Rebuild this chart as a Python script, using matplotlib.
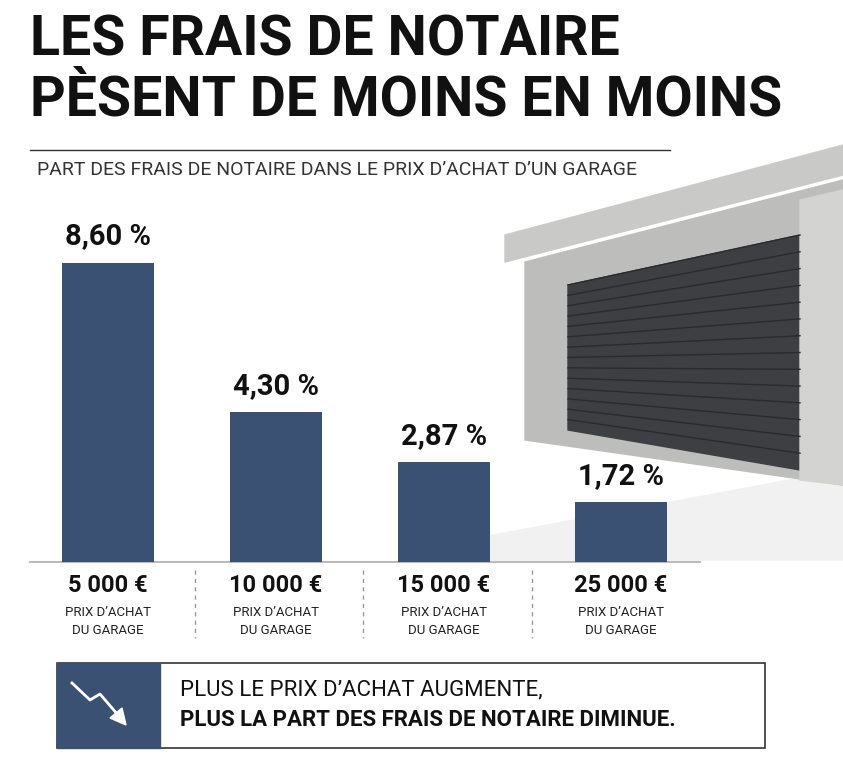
import matplotlib
matplotlib.use("Agg")
import matplotlib.pyplot as plt
from matplotlib.patches import Rectangle, Polygon, FancyArrowPatch

prices = ["5 000 €", "10 000 €", "15 000 €", "25 000 €"]
shares = [8.60, 4.30, 2.87, 1.72]
share_labels = ["8,60 %", "4,30 %", "2,87 %", "1,72 %"]

W, H = 843, 768
fig = plt.figure(figsize=(W/100, H/100), dpi=100)
fig.patch.set_facecolor("white")
FONT = "Roboto"
BAR = "#3b5173"

def px(x, y):
    return x / W, 1 - y / H

# decorative garage (drawn in figure pixel space)
deco = fig.add_axes([0, 0, 1, 1], zorder=0)
deco.set_xlim(0, W); deco.set_ylim(H, 0); deco.axis("off")
deco.add_patch(Polygon([[440, 545], [843, 470], [843, 560], [440, 560]], color="#f1f1f1"))
deco.add_patch(Polygon([[505, 235], [843, 145], [843, 175], [505, 262]], color="#c9c9c7"))
deco.add_patch(Polygon([[525, 262], [843, 180], [843, 485], [525, 440]], color="#bdbdbb"))
deco.add_patch(Polygon([[568, 285], [800, 235], [800, 470], [568, 430]], color="#3d3f43"))
for i in range(14):
    t = i / 14
    y1 = 285 + (430 - 285) * t
    y2 = 235 + (470 - 235) * t
    deco.plot([568, 800], [y1, y2], color="#2a2b2e", lw=1)
deco.add_patch(Polygon([[800, 200], [843, 190], [843, 485], [800, 480]], color="#d3d3d1"))

# title
fig.text(*px(30, 40), "LES FRAIS DE NOTAIRE", fontsize=40, fontweight="bold",
         family=FONT, va="center", ha="left", color="#111111")
fig.text(*px(30, 100), "PÈSENT DE MOINS EN MOINS", fontsize=40, fontweight="bold",
         family=FONT, va="center", ha="left", color="#111111")
fig.add_artist(plt.Line2D([30/W, 670/W], [1-150/H]*2, color="#333333", lw=1))
fig.text(*px(37, 170), "PART DES FRAIS DE NOTAIRE DANS LE PRIX D’ACHAT D’UN GARAGE",
         fontsize=14, family=FONT, va="center", ha="left", color="#333333")

# bars
ax = fig.add_axes([30/W, (H-562)/H, 670/W, 348/H], zorder=2)
ax.patch.set_alpha(0)
centers = [78, 246, 414, 591]
ax.bar(centers, shares, width=92, color=BAR)
for c, v, lab in zip(centers, shares, share_labels):
    ax.text(c, v + 0.35, lab, ha="center", va="bottom", fontsize=21,
            fontweight="bold", family=FONT, color="#111111")
ax.set_xlim(0, 670); ax.set_ylim(0, 10)
ax.axis("off")
fig.add_artist(plt.Line2D([30/W, 700/W], [1-562/H]*2, color="#bbbbbb", lw=1.5))

for c, p in zip(centers, prices):
    x = c + 30
    fig.text(*px(x, 585), p, ha="center", va="center", fontsize=17,
             fontweight="bold", family=FONT, color="#111111")
    fig.text(*px(x, 612), "PRIX D’ACHAT", ha="center", va="center",
             fontsize=9.5, family=FONT, color="#222222")
    fig.text(*px(x, 630), "DU GARAGE", ha="center", va="center",
             fontsize=9.5, family=FONT, color="#222222")
for xs in [195, 363, 532]:
    fig.add_artist(plt.Line2D([xs/W]*2, [1-570/H, 1-638/H], color="#999999",
                              lw=1, ls=(0, (3, 3))))

# bottom box
deco2 = fig.add_axes([0, 0, 1, 1], zorder=3)
deco2.set_xlim(0, W); deco2.set_ylim(H, 0); deco2.axis("off")
deco2.add_patch(Rectangle((57, 663), 708, 85, fill=False, ec="#333333", lw=1.2))
deco2.add_patch(Rectangle((57, 663), 103, 85, color=BAR))
deco2.plot([72, 90, 100, 118], [683, 700, 694, 715], color="white", lw=2)
deco2.add_patch(Polygon([[126, 725], [110, 718], [122, 708]], color="white"))
deco2.text(180, 690, "PLUS LE PRIX D’ACHAT AUGMENTE,", fontsize=16, family=FONT,
           va="center", ha="left", color="#111111")
deco2.text(180, 720, "PLUS LA PART DES FRAIS DE NOTAIRE DIMINUE.", fontsize=16,
           fontweight="bold", family=FONT, va="center", ha="left", color="#111111")

fig.savefig("out.png", dpi=100)
